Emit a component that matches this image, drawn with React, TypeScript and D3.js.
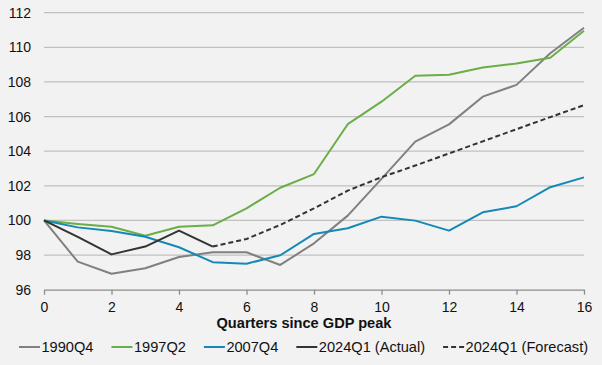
import { useEffect, useRef } from 'react';
import * as d3 from 'd3';

const quarters = d3.range(0, 17);
const yTicks = [96, 98, 100, 102, 104, 106, 108, 110, 112];
const xTicks = [0, 2, 4, 6, 8, 10, 12, 14, 16];

const s1990Q4 = [100, 97.62, 96.92, 97.24, 97.89, 98.16, 98.16, 97.43, 98.68, 100.28, 102.4, 104.55, 105.55, 107.15, 107.83, 109.66, 111.13];
const s1997Q2 = [100, 99.8, 99.64, 99.12, 99.64, 99.72, 100.7, 101.89, 102.68, 105.56, 106.86, 108.36, 108.42, 108.83, 109.06, 109.4, 110.96];
const s2007Q4 = [100, 99.6, 99.39, 99.06, 98.45, 97.59, 97.5, 97.99, 99.22, 99.55, 100.22, 99.99, 99.41, 100.47, 100.82, 101.92, 102.49];
const s2024Actual = [100, 99.05, 98.04, 98.49, 99.41, 98.49];
// forecast starts at quarter 5
const forecastStart = 5;
const s2024Forecast = [98.49, 98.93, 99.74, 100.7, 101.72, 102.5, 103.17, 103.87, 104.57, 105.27, 105.97, 106.66];

const seriesInfo = [
	{ label: '1990Q4', color: '#808080', dash: null, values: s1990Q4, start: 0 },
	{ label: '1997Q2', color: '#6aae47', dash: null, values: s1997Q2, start: 0 },
	{ label: '2007Q4', color: '#1489b5', dash: null, values: s2007Q4, start: 0 },
	{ label: '2024Q1 (Actual)', color: '#333333', dash: null, values: s2024Actual, start: 0 },
	{ label: '2024Q1 (Forecast)', color: '#333333', dash: '5,3', values: s2024Forecast, start: forecastStart },
];

export default function App() {
	const svgRef = useRef<SVGSVGElement>(null);
	const width = 602;
	const height = 365;
	const margin = { top: 12.7, right: 18, bottom: 75.3, left: 44 };

	useEffect(() => {
		if (!svgRef.current) return;
		const svg = d3.select(svgRef.current);
		svg.selectAll('*').remove();

		const font = '"Liberation Sans", Arial, sans-serif';

		const xScale = d3
			.scaleLinear()
			.domain([0, 16])
			.range([margin.left, width - margin.right]);
		const yScale = d3
			.scaleLinear()
			.domain([96, 112])
			.range([height - margin.bottom, margin.top]);

		svg.append('rect').attr('width', width).attr('height', height).attr('fill', '#f2f2f2');

		// gridlines
		svg
			.append('g')
			.selectAll('line')
			.data(yTicks.filter((t) => t !== 96))
			.enter()
			.append('line')
			.attr('x1', xScale(0))
			.attr('x2', xScale(16))
			.attr('y1', (d) => yScale(d))
			.attr('y2', (d) => yScale(d))
			.attr('stroke', '#c0c0c0')
			.attr('stroke-width', 1.3);

		// x axis
		const xAxis = svg
			.append('g')
			.attr('transform', `translate(0,${yScale(96)})`)
			.call(
				d3
					.axisBottom(xScale)
					.tickValues(xTicks)
					.tickSize(5)
					.tickSizeOuter(0)
					.tickPadding(5),
			);
		xAxis.select('.domain').attr('stroke', '#8c8c8c').attr('stroke-width', 1.3);
		xAxis.selectAll('.tick line').attr('stroke', '#8c8c8c').attr('stroke-width', 1.3);
		xAxis
			.selectAll('.tick text')
			.attr('font-family', font)
			.attr('font-size', 14)
			.attr('fill', '#111')
			.attr('dy', '0.9em');

		// y labels
		svg
			.append('g')
			.selectAll('text')
			.data(yTicks)
			.enter()
			.append('text')
			.attr('x', 31)
			.attr('y', (d) => yScale(d) + 5)
			.attr('text-anchor', 'end')
			.attr('font-family', font)
			.attr('font-size', 14)
			.attr('fill', '#111')
			.text((d) => d);

		// axis title
		svg
			.append('text')
			.attr('x', 304)
			.attr('y', 328)
			.attr('text-anchor', 'middle')
			.attr('font-family', font)
			.attr('font-size', 14.6)
			.attr('font-weight', 'bold')
			.attr('fill', '#111')
			.text('Quarters since GDP peak');

		const line = d3
			.line<[number, number]>()
			.x((d) => xScale(d[0]))
			.y((d) => yScale(d[1]));

		seriesInfo.forEach((s) => {
			const pts = s.values.map((v, i) => [quarters[i + s.start], v] as [number, number]);
			svg
				.append('path')
				.datum(pts)
				.attr('fill', 'none')
				.attr('stroke', s.color)
				.attr('stroke-width', 2)
				.attr('stroke-linejoin', 'round')
				.attr('stroke-dasharray', s.dash)
				.attr('d', line);
		});

		// legend
		const legend = svg.append('g');
		let lx = 19;
		seriesInfo.forEach((s) => {
			legend
				.append('line')
				.attr('x1', lx)
				.attr('x2', lx + 21)
				.attr('y1', 347)
				.attr('y2', 347)
				.attr('stroke', s.color)
				.attr('stroke-width', 2)
				.attr('stroke-dasharray', s.dash);
			const t = legend
				.append('text')
				.attr('x', lx + 22.5)
				.attr('y', 352)
				.attr('font-family', font)
				.attr('font-size', 14.6)
				.attr('fill', '#111')
				.text(s.label);
			const w = (t.node() as SVGTextElement).getComputedTextLength();
			lx += 22.5 + w + 18;
		});
	}, []);

	return (
		<div style={{ position: 'fixed', left: 0, top: 0, width, height, background: '#f2f2f2' }}>
			<svg ref={svgRef} width={width} height={height} style={{ display: 'block' }} />
		</div>
	);
}
